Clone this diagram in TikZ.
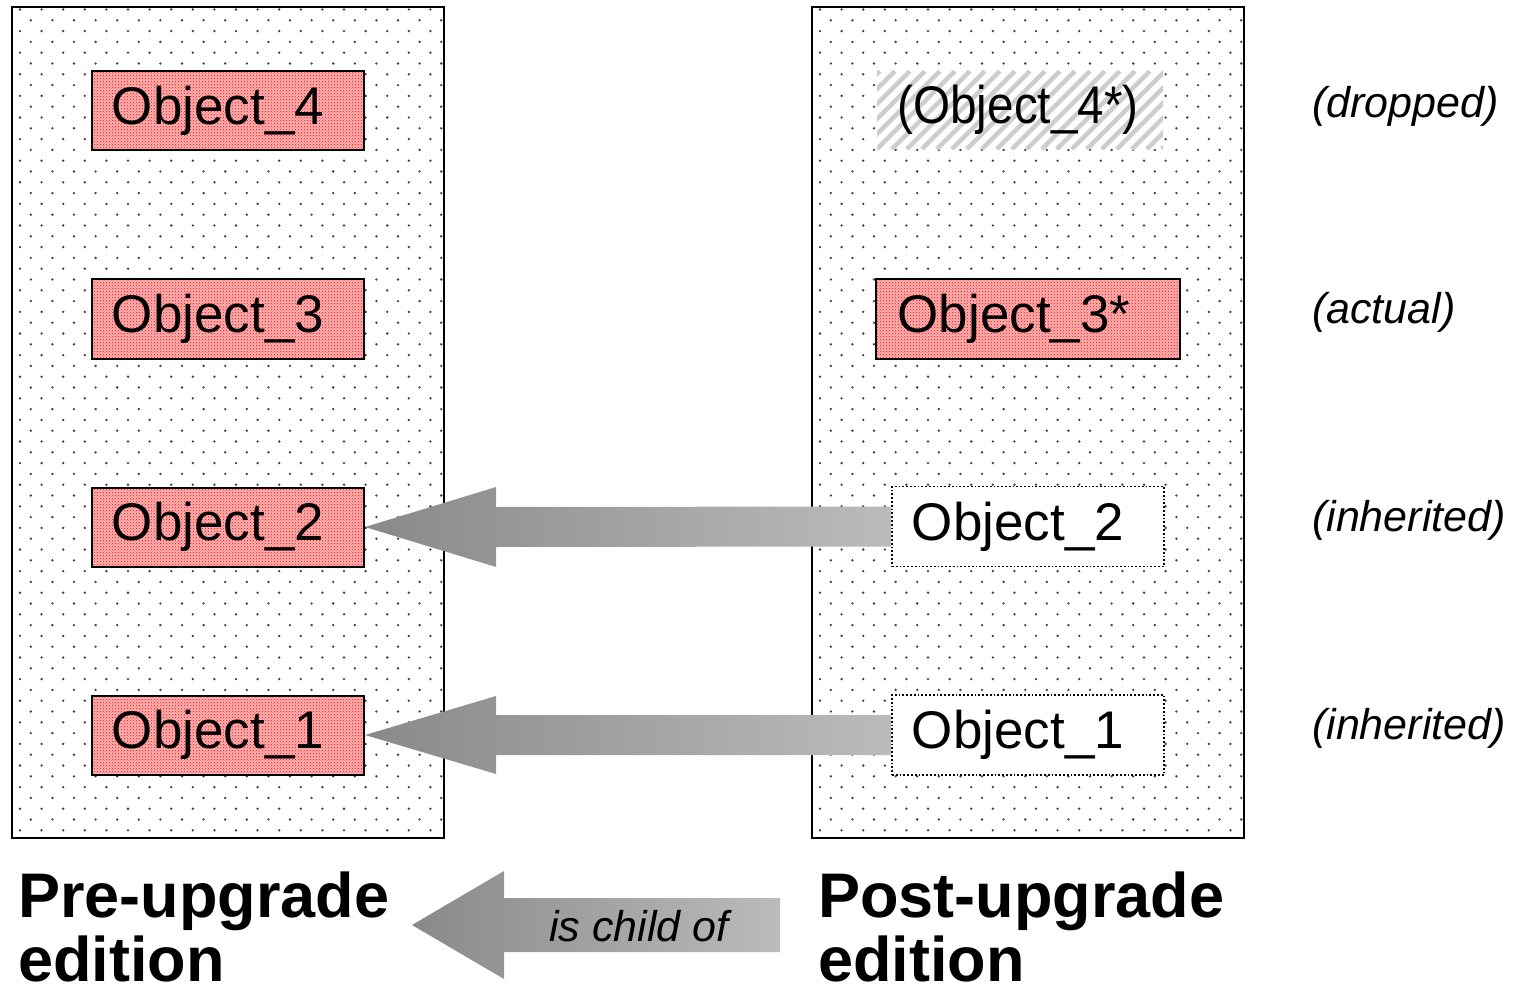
\documentclass[tikz,border=0pt]{standalone}
\usepackage{fontspec}
\usepackage{graphicx}
\setmainfont{Liberation Sans}
\usetikzlibrary{calc,patterns}
\definecolor{dotc}{RGB}{60,60,60}
\definecolor{pinkbg}{RGB}{255,180,180}
\definecolor{ad}{RGB}{134,134,134}
\definecolor{al}{RGB}{192,192,192}
\definecolor{hatchc}{RGB}{205,205,205}
\pgfdeclarehorizontalshading{arrowsh}{100bp}{color(0bp)=(ad); color(22bp)=(ad); color(80bp)=(al); color(100bp)=(al)}
\newcommand\dotfield[2]{%
  \foreach \r in {0,...,76} {%
    \foreach \c in {0,...,19} {%
      \pgfmathsetmacro\xx{#1+8+\c*21.6+mod(\r,2)*10.8}%
      \pgfmathsetmacro\yy{#2+2.5+\r*10.8}%
      \fill[dotc] (\xx,\yy) circle (1.3);
    }%
  }%
}
\tikzset{
  container/.style={draw=black, line width=2pt, minimum width=432, minimum height=831, inner sep=0},
  objfont/.style={font=\fontsize{53}{60}\selectfont},
  redobj/.style={objfont, draw=black, line width=2pt, minimum width=272, minimum height=79, inner sep=0,
     preaction={fill=pinkbg}, pattern=crosshatch dots, pattern color=red},
  inhobj/.style={objfont, draw=black, dotted, line width=1.8pt, fill=white, minimum width=272, minimum height=80, inner sep=0},
  note/.style={font=\fontsize{43}{50}\selectfont\itshape, anchor=west, inner sep=0},
  edlabel/.style={font=\fontsize{63}{64}\selectfont\bfseries, align=left, anchor=north west, inner sep=0},
  bigarrow/.style={shading=arrowsh, draw=none},
}
\begin{document}
\begin{tikzpicture}[x=1pt,y=-1pt]
\path[use as bounding box] (0,0) rectangle (1515,992);
% dot fields
\begin{scope}
\clip (12,7) rectangle (444,838);
\dotfield{12}{7}
\end{scope}
\begin{scope}
\clip (812,7) rectangle (1244,838);
\dotfield{812}{7}
\end{scope}
% containers
\node[container] (L) at (228,422.5) {};
\node[container] (R) at (1028,422.5) {};
% left objects
\node[redobj] (l4) at (228,110.5) {Object\_4\kern20pt};
\node[redobj] (l3) at (228,319) {Object\_3\kern20pt};
\node[redobj] (l2) at (228,527) {Object\_2\kern20pt};
\node[redobj] (l1) at (228,735) {Object\_1\kern20pt};
% right objects
\node[objfont, minimum width=286, minimum height=78, inner sep=0, fill=white] (r4) at (1020,110) {};
\begin{scope}
\clip (r4.south west) rectangle (r4.north east);
\foreach \k in {-6,...,20} {
  \draw[hatchc, line width=4.5] ($(r4.south west)+(\k*15,0)$) -- ++(78,-78);
}
\end{scope}
\node[objfont, inner sep=0] at ($(r4.center)+(-2,0)$) {\scalebox{0.9}[1]{(Object\_4*)}};
\node[redobj, minimum width=304] (r3) at (1028,319) {Object\_3*\kern28pt};
\node[inhobj] (r2) at (1028,526.5) {Object\_2\kern20pt};
\node[inhobj] (r1) at (1028,735) {Object\_1\kern20pt};
% inheritance arrows
\shade[bigarrow] (l2.east) -- ($(l2.east)+(131,-40)$) -- ($(l2.east)+(131,-20)$) -- ($(r2.west)+(0,-20)$)
   -- ($(r2.west)+(0,20)$) -- ($(l2.east)+(131,20)$) -- ($(l2.east)+(131,40)$) -- cycle;
\shade[bigarrow] (l1.east) -- ($(l1.east)+(131,-39)$) -- ($(l1.east)+(131,-20)$) -- ($(r1.west)+(0,-20)$)
   -- ($(r1.west)+(0,20)$) -- ($(l1.east)+(131,20)$) -- ($(l1.east)+(131,39)$) -- cycle;
% notes
\node[note] (n4) at (1312,106) {(dropped)};
\node[note] (n3) at (1312,312) {(actual)};
\node[note] (n2) at (1312,520) {(inherited)};
\node[note] (n1) at (1312,728) {(inherited)};
% edition labels
\node[edlabel] (pre) at (18,872) {Pre-upgrade\\edition};
\node[edlabel] (post) at (818,872) {Post-upgrade\\edition};
% is child of arrow
\coordinate (ctip) at (412,925);
\coordinate (cend) at (780,925);
\shade[bigarrow] (ctip) -- ($(ctip)+(92,-54)$) -- ($(ctip)+(92,-27)$) -- ($(cend)+(0,-27)$)
   -- ($(cend)+(0,27)$) -- ($(ctip)+(92,27)$) -- ($(ctip)+(92,54)$) -- cycle;
\node[font=\fontsize{43}{50}\selectfont\itshape, inner sep=0] (cl) at (639,926) {is child of};
\end{tikzpicture}
\end{document}
